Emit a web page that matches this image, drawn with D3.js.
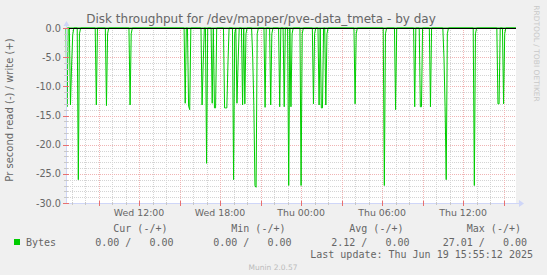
<!DOCTYPE html>
<html><head><meta charset="utf-8">
<script src="https://cdn.jsdelivr.net/npm/d3@7"></script>
<style>
html,body{margin:0;padding:0;background:#F0F0F0;}
svg{display:block;}
text{white-space:pre;}
</style></head><body>
<svg id="chart" width="547" height="275"></svg>
<script>
const title = "Disk throughput for /dev/mapper/pve-data_tmeta - by day";
const yAxisTitle = "Pr second read (-) / write (+)";
const timeRange = ["Wed 06:35:12", "Thu 15:55:12"];
const yTickValues = [0, -5, -10, -15, -20, -25, -30];
const xTickTimes = ["Wed 12:00", "Wed 18:00", "Thu 00:00", "Thu 06:00", "Thu 12:00"];
const xTickLabels = ["Wed 12:00", "Wed 18:00", "Thu 00:00", "Thu 06:00", "Thu 12:00"];

const readTimes = [
"Wed 06:35","Wed 06:40","Wed 06:45","Wed 06:50","Wed 06:55","Wed 07:00","Wed 07:05","Wed 07:10",
"Wed 07:25","Wed 07:30","Wed 07:35","Wed 07:40",
"Wed 08:45","Wed 08:50","Wed 08:55",
"Wed 09:30","Wed 09:35","Wed 09:40","Wed 09:45",
"Wed 11:15","Wed 11:20","Wed 11:25","Wed 11:30",
"Wed 15:20","Wed 15:25","Wed 15:30","Wed 15:35","Wed 15:40","Wed 15:45","Wed 15:50",
"Wed 16:35","Wed 16:40","Wed 16:45","Wed 16:50","Wed 16:55","Wed 17:00","Wed 17:05",
"Wed 17:20","Wed 17:25","Wed 17:30","Wed 17:35","Wed 17:40","Wed 17:45",
"Wed 18:15","Wed 18:20","Wed 18:25","Wed 18:30","Wed 18:35","Wed 18:40",
"Wed 18:55","Wed 19:00","Wed 19:05","Wed 19:10","Wed 19:15","Wed 19:20","Wed 19:25",
"Wed 19:35","Wed 19:40","Wed 19:45","Wed 19:50","Wed 19:55","Wed 20:00",
"Wed 20:20","Wed 20:25","Wed 20:30","Wed 20:35","Wed 20:40","Wed 20:45","Wed 20:50",
"Wed 21:15","Wed 21:20","Wed 21:25",
"Wed 21:40","Wed 21:45","Wed 21:50","Wed 21:55",
"Wed 22:20","Wed 22:25","Wed 22:30",
"Wed 22:40","Wed 22:45","Wed 22:50",
"Wed 23:00","Wed 23:05","Wed 23:10","Wed 23:15","Wed 23:20","Wed 23:25",
"Wed 23:55","Thu 00:00","Thu 00:05","Thu 00:10",
"Thu 00:50","Thu 00:55","Thu 01:00","Thu 01:05",
"Thu 01:15","Thu 01:20","Thu 01:25","Thu 01:30","Thu 01:35","Thu 01:40",
"Thu 01:45","Thu 01:50","Thu 01:55","Thu 02:00",
"Thu 03:55","Thu 04:00","Thu 04:05","Thu 04:10",
"Thu 06:05","Thu 06:10","Thu 06:15","Thu 06:20",
"Thu 06:55","Thu 07:00","Thu 07:05",
"Thu 08:20","Thu 08:25","Thu 08:30",
"Thu 08:45","Thu 08:50","Thu 08:55","Thu 09:00",
"Thu 09:30","Thu 09:35","Thu 09:40",
"Thu 10:30","Thu 10:35","Thu 10:40","Thu 10:45","Thu 10:50","Thu 10:55",
"Thu 12:45","Thu 12:50","Thu 12:55","Thu 13:00",
"Thu 14:30","Thu 14:35","Thu 14:40","Thu 14:45",
"Thu 14:55","Thu 15:00","Thu 15:05","Thu 15:10",
"Thu 15:55"
];
const readValues = [
0,-13.5,0,0,-13.2,-6.5,-1.2,0,
0,-26,-1,0,
0,-13.2,0,
0,-13.3,-1,0,
0,-13.2,-1,0,
0,-12.9,0,0,-13.4,-14,0,
0,-13.2,-6,0,0,-23.2,0,
0,-12.9,0,-13.7,-13.7,0,
0,-13.7,-13.7,-13.7,-6,0,
0,-26,-1,0,-12.9,-6,0,
0,-13.2,0,-13,-1,0,
0,-5,-13.3,-27,-27.3,-1,0,
0,-13.6,0,
0,-13.2,-1,0,
0,-13.5,0,
0,-13.5,0,
0,-27,0,-13.5,-1,0,
0,-27,-1,0,
0,-13,-1,0,
0,-13.2,0,-13.7,-13.7,0,
0,-13.2,-1,0,
0,-13,-1,0,
0,-27,-1,0,
0,-14,0,
0,-13.5,0,
0,-13.5,-13.5,0,
0,-13.5,0,
0,-5,-13.5,-26,-1,0,
0,-27,-1,0,
0,-13,-13,0,
0,-13,-1,0,
0
];
const writeTimes = ["Wed 06:35", "Thu 15:55"];
const writeValues = [0, 0];

const seriesName = "Bytes";
const legendHeaders = ["Cur (-/+)", "Min (-/+)", "Avg (-/+)", "Max (-/+)"];
const legendRead = [0.00, 0.00, 2.12, 27.01];
const legendWrite = [0.00, 0.00, 0.00, 0.00];
const lastUpdate = "Last update: Thu Jun 19 15:55:12 2025";
const versionText = "Munin 2.0.57";
const watermark = "RRDTOOL / TOBI OETIKER";

const GREEN = "#00CC00", FONT = "#666666", AXIS = "#CFD6F8";

function parseT(s) {
  const [d, hm] = s.split(" ");
  const p = hm.split(":").map(Number);
  return new Date(2025, 5, d === "Wed" ? 18 : 19, p[0], p[1], p[2] || 0);
}

const svg = d3.select("#chart");
const X0 = 66, X1 = 516, Y0 = 28, Y1 = 203;

const x = d3.scaleTime().domain(timeRange.map(parseT)).range([X0, X1]);
const y = d3.scaleLinear().domain([-30, 0]).range([Y1, Y0]);
const px = v => Math.round(v) + 0.5;

// background
svg.append("rect").attr("width", 547).attr("height", 275).attr("fill", "#F0F0F0");
svg.append("rect").attr("x", X0).attr("y", Y0).attr("width", X1 - X0).attr("height", Y1 - Y0).attr("fill", "#FFFFFF");

// grid
const g = svg.append("g");
const [t0, t1] = x.domain();
const hours = d3.timeHour.range(t0, t1);
const majorHours = hours.filter(h => h.getHours() % 3 === 0);
const minorY = d3.range(-29, 0, 1);
const majorY = minorY.filter(v => v % 5 === 0);

g.selectAll(".vmin").data(hours.filter(h => h.getHours() % 3 !== 0)).join("line")
  .attr("x1", d => px(x(d))).attr("x2", d => px(x(d))).attr("y1", Y0).attr("y2", Y1)
  .attr("stroke", "#D4D4D4").attr("stroke-dasharray", "1,1");
g.selectAll(".hmin").data(minorY.filter(v => v % 5 !== 0)).join("line")
  .attr("x1", X0).attr("x2", X1).attr("y1", d => px(y(d))).attr("y2", d => px(y(d)))
  .attr("stroke", "#D4D4D4").attr("stroke-dasharray", "1,1");
g.selectAll(".vmaj").data(majorHours).join("line")
  .attr("x1", d => px(x(d))).attr("x2", d => px(x(d))).attr("y1", Y0).attr("y2", Y1)
  .attr("stroke", "#F0B4B4").attr("stroke-dasharray", "1,1");
g.selectAll(".hmaj").data(majorY).join("line")
  .attr("x1", X0).attr("x2", X1).attr("y1", d => px(y(d))).attr("y2", d => px(y(d)))
  .attr("stroke", "#F0B4B4").attr("stroke-dasharray", "1,1");

// data lines
const line = d3.line().x(d => x(d[0]) ).y(d => y(d[1]));
const readData = readTimes.map((t, i) => [parseT(t), readValues[i]]);
const writeData = writeTimes.map((t, i) => [parseT(t), writeValues[i]]);
svg.append("path").datum(readData).attr("d", line).attr("fill", "none")
  .attr("stroke", GREEN).attr("stroke-width", 1);
svg.append("path").datum(writeData).attr("d", line).attr("fill", "none")
  .attr("stroke", GREEN).attr("stroke-width", 1);

// zero rule
svg.append("line").attr("x1", X0).attr("x2", X1).attr("y1", px(y(0))).attr("y2", px(y(0)))
  .attr("stroke", "#000000");

// axes
const ax = svg.append("g");
ax.append("line").attr("x1", X0).attr("x2", X1 + 3).attr("y1", px(Y1)).attr("y2", px(Y1)).attr("stroke", AXIS);
ax.append("path").attr("d", `M${X1 + 3},${Y1 - 3} L${X1 + 8},${Y1 + 0.5} L${X1 + 3},${Y1 + 4} Z`).attr("fill", AXIS);
ax.append("line").attr("x1", px(X0)).attr("x2", px(X0)).attr("y1", Y1 + 1).attr("y2", Y0 - 3).attr("stroke", AXIS);
ax.append("path").attr("d", `M${X0 - 2.5},${Y0 - 2} L${X0 + 0.5},${Y0 - 7} L${X0 + 3.5},${Y0 - 2} Z`).attr("fill", AXIS);

// x ticks
ax.selectAll(".xtmin").data(hours).join("line")
  .attr("x1", d => px(x(d))).attr("x2", d => px(x(d))).attr("y1", Y1 - 1).attr("y2", Y1 + 2)
  .attr("stroke", "#C8C8C8");
ax.selectAll(".xtmaj").data(majorHours).join("line")
  .attr("x1", d => px(x(d))).attr("x2", d => px(x(d))).attr("y1", Y1 - 2).attr("y2", Y1 + 3)
  .attr("stroke", "#E87070");
// y ticks
ax.selectAll(".ytmin").data(minorY).join("line")
  .attr("y1", d => px(y(d))).attr("y2", d => px(y(d))).attr("x1", X0 - 2).attr("x2", X0 + 2)
  .attr("stroke", "#C8C8C8");
ax.selectAll(".ytmaj").data(yTickValues).join("line")
  .attr("y1", d => px(y(d))).attr("y2", d => px(y(d))).attr("x1", X0 - 3).attr("x2", X0 + 3)
  .attr("stroke", "#E87070");

// labels
const sans = "'DejaVu Sans', sans-serif", mono = "'DejaVu Sans Mono', monospace";
svg.append("g").selectAll("text").data(yTickValues).join("text")
  .attr("x", 61).attr("y", d => y(d) + 3.5).attr("text-anchor", "end")
  .attr("font-family", sans).attr("font-size", 9.7).attr("fill", FONT)
  .text(d => d3.format(".1f")(d).replace("−", "-"));
svg.append("g").selectAll("text").data(xTickTimes).join("text")
  .attr("x", d => x(parseT(d))).attr("y", 216).attr("text-anchor", "middle")
  .attr("font-family", sans).attr("font-size", 9.4).attr("fill", FONT)
  .text((d, i) => xTickLabels[i]);

svg.append("text").attr("x", 261).attr("y", 23).attr("text-anchor", "middle")
  .attr("font-family", sans).attr("font-size", 12).attr("fill", FONT).text(title);
svg.append("text").attr("transform", "translate(13,110) rotate(-90)").attr("text-anchor", "middle")
  .attr("font-family", sans).attr("font-size", 10).attr("fill", FONT).text(yAxisTitle);
svg.append("text").attr("transform", "translate(534,53.5) rotate(90)").attr("text-anchor", "middle")
  .attr("font-family", sans).attr("font-size", 7.5).attr("fill", "#C8C8C8").text(watermark);

// legend
const leg = svg.append("g").attr("font-family", mono).attr("font-size", 10).attr("fill", FONT);
const colEnds = [173.5, 291.5, 409.5, 527];
const f2 = v => d3.format(".2f")(v);
leg.selectAll(".hdr").data(legendHeaders).join("text")
  .attr("x", (d, i) => colEnds[i]).attr("y", 232).attr("text-anchor", "end")
  .text(d => d + " ");
leg.selectAll(".val").data(legendRead).join("text")
  .attr("x", (d, i) => colEnds[i]).attr("y", 245.5).attr("text-anchor", "end")
  .text((d, i) => f2(d).padStart(6) + " / " + f2(legendWrite[i]).padStart(6));
leg.append("rect").attr("x", 14).attr("y", 239).attr("width", 6).attr("height", 6).attr("fill", GREEN);
leg.append("text").attr("x", 26).attr("y", 245.5).text(seriesName);
leg.append("text").attr("x", 533).attr("y", 258).attr("text-anchor", "end").text(lastUpdate);

svg.append("text").attr("x", 273).attr("y", 270).attr("text-anchor", "middle")
  .attr("font-family", sans).attr("font-size", 7.5).attr("fill", "#BBBBBB").text(versionText);
</script>
</body></html>
